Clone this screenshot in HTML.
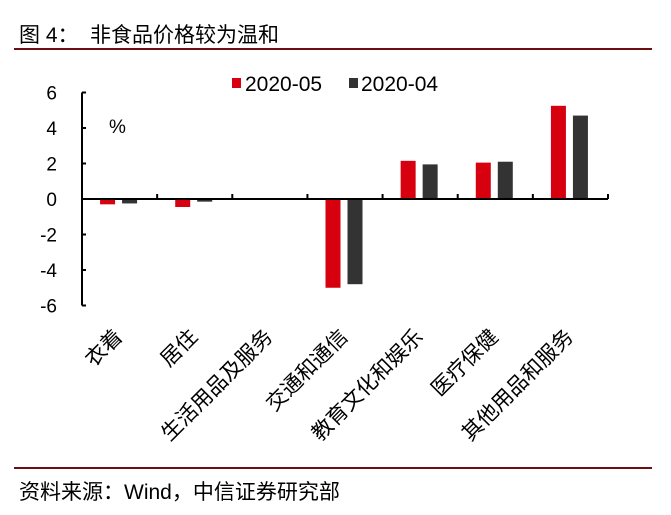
<!DOCTYPE html>
<html><head><meta charset="utf-8"><style>
body{margin:0;background:#fff;width:671px;height:515px;overflow:hidden}
svg{display:block}
text{font-family:"Liberation Sans","Noto Sans CJK SC",sans-serif;fill:#000}
</style></head><body>
<svg id="chart" width="671" height="515">
<text x="19" y="42" font-size="21">图 4：</text>
<text x="90" y="42" font-size="21">非食品价格较为温和</text>
<rect x="14" y="48" width="638" height="2" fill="#6b0f10"/>
<rect x="14" y="467" width="638" height="2" fill="#6b0f10"/>
<text x="19" y="499" font-size="21">资料来源：Wind，中信证券研究部</text>
<g>
<rect x="232" y="78" width="9" height="10" fill="#d7000f"/>
<text x="245" y="91" font-size="21">2020-05</text>
<rect x="349" y="78" width="9" height="10" fill="#333"/>
<text x="361" y="91" font-size="21">2020-04</text>
</g>
<text x="109" y="133" font-size="19">%</text>
<g id="plot"></g>
</svg>
<script>
const categories=["衣着","居住","生活用品及服务","交通和通信","教育文化和娱乐","医疗保健","其他用品和服务"];
const series2005=[-0.3,-0.45,0,-5.0,2.15,2.05,5.25];
const series2004=[-0.25,-0.15,0,-4.8,1.95,2.1,4.7];
const yTicks=[6,4,2,0,-2,-4,-6];
const NS="http://www.w3.org/2000/svg";
const g=document.getElementById('plot');
const x0=82,x1=608,catW=(608-82)/7;
const y=v=>199-v*17.75;
const cx=i=>x0+catW*i+catW/2;
function mk(t,a){const e=document.createElementNS(NS,t);for(const k in a)e.setAttribute(k,a[k]);g.appendChild(e);return e;}
let ax=mk('line',{x1:x0,y1:y(6),x2:x0,y2:y(-6),stroke:'#000','stroke-width':2});


yTicks.forEach(v=>{
 const t=mk('line',{x1:x0,y1:y(v),x2:x0+4,y2:y(v),stroke:'#000','stroke-width':2});
 
 
 const l=mk('text',{x:57,y:y(v)+7,'font-size':19,'text-anchor':'end'});
 l.textContent=v;
 
 
});
categories.forEach((c,i)=>{
 const r=mk('rect',{x:cx(i)-19.5,width:15,y:Math.min(y(series2005[i]),y(0)),height:Math.abs(y(series2005[i])-y(0)),fill:'#d7000f'});
 
 
 const b=mk('rect',{x:cx(i)+2.5,width:15,y:Math.min(y(series2004[i]),y(0)),height:Math.abs(y(series2004[i])-y(0)),fill:'#333'});
 
 
 const t=mk('line',{x1:x0+catW*(i+1),y1:y(0),x2:x0+catW*(i+1),y2:y(0)-5,stroke:'#000','stroke-width':2});
 
 
 const lx=cx(i)+4,ly=338;
 const l=mk('text',{x:lx,y:ly,'font-size':21,'text-anchor':'end',transform:`rotate(-45 ${lx} ${ly})`});
 l.textContent=c;
 
 
});
let xa=mk('line',{x1:x0,y1:y(0),x2:x1,y2:y(0),stroke:'#000','stroke-width':2});


</script>
</body></html>
